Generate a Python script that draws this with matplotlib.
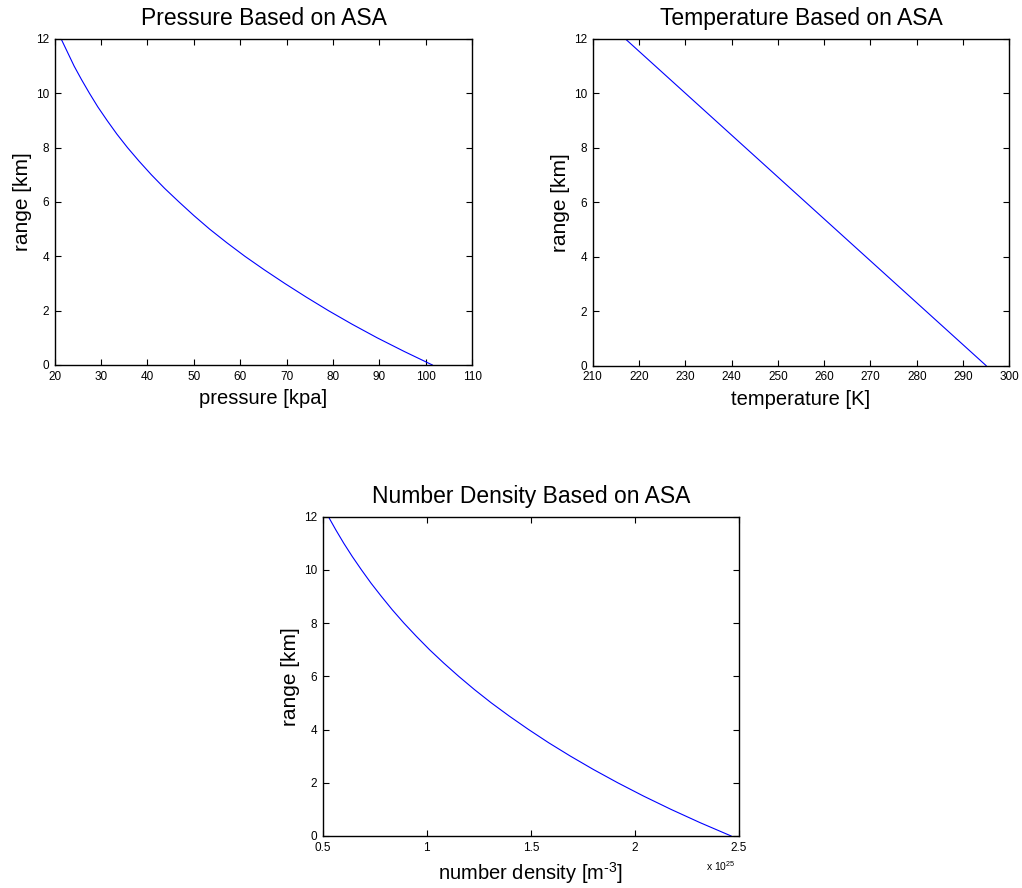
import matplotlib
matplotlib.use("Agg")
import matplotlib.pyplot as plt
from matplotlib.ticker import FormatStrFormatter

plt.rcParams['font.family'] = ['Liberation Sans', 'DejaVu Sans']
plt.rcParams['mathtext.fontset'] = 'custom'
plt.rcParams['mathtext.rm'] = 'Liberation Sans'

# ---- data (every 0.5 km) ----
range_km = [0.0, 0.5, 1.0, 1.5, 2.0, 2.5, 3.0, 3.5, 4.0, 4.5, 5.0, 5.5, 6.0,
            6.5, 7.0, 7.5, 8.0, 8.5, 9.0, 9.5, 10.0, 10.5, 11.0, 11.5, 12.0]
pressure_kpa = [101.4, 95.3, 89.5, 84.1, 79.0, 74.2, 69.6, 65.2, 61.0, 57.1,
                53.4, 50.0, 46.8, 43.7, 40.85, 38.2, 35.7, 33.4, 31.3, 29.3,
                27.5, 25.8, 24.2, 22.8, 21.4]
temperature_k = [295.0, 291.75, 288.5, 285.25, 282.0, 278.75, 275.5, 272.25,
                 269.0, 265.75, 262.5, 259.25, 256.0, 252.75, 249.5, 246.25,
                 243.0, 239.75, 236.5, 233.25, 230.0, 226.75, 223.5, 220.25, 217.0]
density_e25 = [2.462, 2.313, 2.173, 2.041, 1.917, 1.800, 1.690, 1.586, 1.489,
               1.397, 1.310, 1.229, 1.153, 1.081, 1.013, 0.950, 0.890, 0.834,
               0.782, 0.732, 0.686, 0.642, 0.601, 0.563, 0.527]

p_ticks = [20, 30, 40, 50, 60, 70, 80, 90, 100, 110]
t_ticks = [210, 220, 230, 240, 250, 260, 270, 280, 290, 300]
n_ticks = [0.5, 1, 1.5, 2, 2.5]
r_ticks = [0, 2, 4, 6, 8, 10, 12]

fig = plt.figure(figsize=(10.22, 8.88), dpi=100)

def style(ax, xt, title, xlabel):
    ax.set_ylim(0, 12)
    ax.set_yticks(r_ticks)
    ax.set_xticks(xt)
    ax.set_xlim(xt[0], xt[-1])
    ax.tick_params(direction='in', length=4, width=0.8, labelsize=8.5,
                   top=True, right=True, pad=4, colors='black')
    for s in ax.spines.values():
        s.set_linewidth(1.0)
    ax.set_title(title, fontsize=16.5, pad=10)
    ax.set_xlabel(xlabel, fontsize=14.5, labelpad=5)
    ax.set_ylabel('range [km]', fontsize=15, labelpad=3)

ax1 = fig.add_axes([0.0535, 0.589, 0.4086, 0.3671])
ax1.plot(pressure_kpa, range_km, color='#0000ff', lw=0.8)
style(ax1, p_ticks, 'Pressure Based on ASA', 'pressure [kpa]')

ax2 = fig.add_axes([0.580, 0.5882, 0.4076, 0.3682])
ax2.plot(temperature_k, range_km, color='#0000ff', lw=0.8)
style(ax2, t_ticks, 'Temperature Based on ASA', 'temperature [K]')

ax3 = fig.add_axes([0.3158, 0.0586, 0.4073, 0.3596])
ax3.plot(density_e25, range_km, color='#0000ff', lw=0.8)
style(ax3, n_ticks, 'Number Density Based on ASA', r'number density [m$^{\text{-}3}$]')
ax3.xaxis.set_major_formatter(FormatStrFormatter('%g'))
ax3.text(0.957, -0.095, r'x 10$^{25}$', transform=ax3.transAxes,
         fontsize=7.5, ha='center', va='center')

fig.savefig('out.png', dpi=100, facecolor='white')
